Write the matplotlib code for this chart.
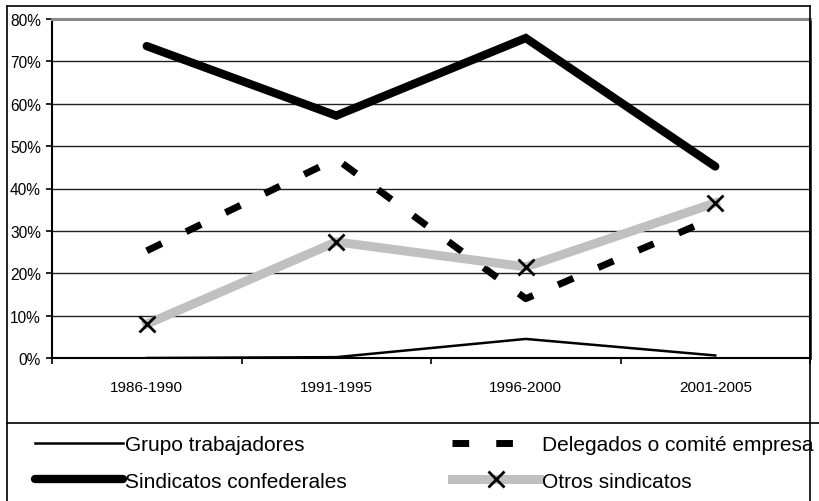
import matplotlib
matplotlib.use('Agg')
import matplotlib.pyplot as plt
from matplotlib.lines import Line2D

periods = ['1986-1990', '1991-1995', '1996-2000', '2001-2005']
grupo = [0.0, 0.2, 4.5, 0.6]
delegados = [25.3, 47.0, 14.0, 33.2]
confederales = [73.6, 57.2, 75.5, 45.2]
otros = [8.0, 27.4, 21.5, 36.6]

labels = ['Grupo trabajadores', 'Delegados o comité empresa',
          'Sindicatos confederales', 'Otros sindicatos']


def main():
    plt.rc('font', family=['Liberation Sans', 'DejaVu Sans'], size=11.2)

    W, H = 819, 502
    fig = plt.figure(figsize=(W / 100, H / 100), dpi=100)
    ax = fig.add_axes([52 / W, (H - 359) / H, (810 - 52) / W, (359 - 20) / H])

    x = [i + 0.5 for i in range(len(periods))]

    l1, = ax.plot(x, grupo, color='black', linewidth=1.8)
    l2, = ax.plot(x, delegados, color='black', linewidth=5,
                  dashes=(2.4, 3.9), dash_capstyle='butt')
    l3, = ax.plot(x, confederales, color='black', linewidth=6,
                  solid_capstyle='round', solid_joinstyle='miter')
    l4, = ax.plot(x, otros, color='#c0c0c0', linewidth=6.5,
                  marker='x', markersize=11, markeredgewidth=2,
                  markeredgecolor='black')

    ax.set_xlim(0, 4)
    ax.set_ylim(0, 80)
    ax.set_yticks(range(0, 81, 10))
    ax.set_yticklabels(['%d%%' % v for v in range(0, 81, 10)])
    ax.set_xticks(range(0, 5))
    ax.set_xticklabels([])
    ax.set_xticks(x, minor=True)
    ax.set_xticklabels(periods, minor=True, fontsize=11)
    ax.tick_params(axis='x', which='minor', length=0, pad=16)
    ax.tick_params(axis='x', which='major', length=4, width=1.2, direction='out')
    ax.tick_params(axis='y', length=4, width=1.2, direction='out', pad=4)

    for v in range(10, 80, 10):
        ax.axhline(v, color='#222222', linewidth=1.0, zorder=0)

    ax.spines['top'].set_color('#888888')
    ax.spines['top'].set_linewidth(2.2)
    ax.spines['left'].set_linewidth(1.5)
    ax.spines['bottom'].set_linewidth(1.5)
    ax.spines['right'].set_linewidth(1.8)

    # outer chart frame and legend separator
    def fline(xs, ys, lw=1.2, color='black'):
        fig.add_artist(Line2D([v / W for v in xs], [(H - v) / H for v in ys],
                              transform=fig.transFigure, color=color,
                              linewidth=lw))

    fline([7, 810], [7, 7])
    fline([7, 7], [7, H])
    fline([810, 810], [7, H])
    fline([7, W], [424, 424])

    # legend is filled column by column, so order handles for row layout
    fig.legend([l1, l3, l2, l4], [labels[0], labels[2], labels[1], labels[3]],
               ncol=2, loc='upper left',
               bbox_to_anchor=(35 / W, (H - 436) / H), frameon=False,
               fontsize=15, handlelength=4.2, handletextpad=0.12,
               columnspacing=5.05, labelspacing=0.85, borderpad=0,
               borderaxespad=0, numpoints=1)

    fig.savefig('out.png', dpi=100)


if __name__ == "__main__": main()
